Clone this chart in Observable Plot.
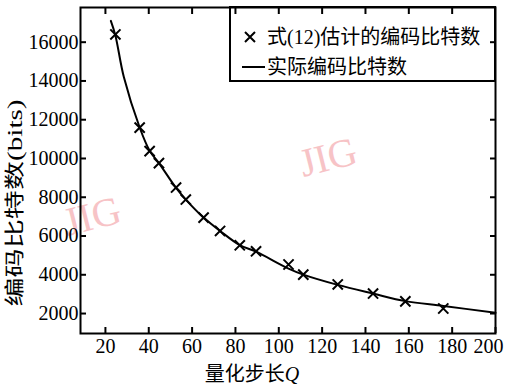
<!DOCTYPE html>
<html><head><meta charset="utf-8">
<script src="https://cdn.jsdelivr.net/npm/d3@7"></script>
<script src="https://cdn.jsdelivr.net/npm/@observablehq/plot@0.6"></script>
<style>
body{margin:0;background:#fff;}
#chart{position:relative;width:506px;height:388px;overflow:hidden;}
.leg{position:absolute;left:229px;top:6px;width:267px;height:76px;box-sizing:border-box;border:2px solid #000;}
.lt{position:absolute;font-family:'Liberation Serif','Noto Sans CJK SC',serif;font-size:20px;line-height:20px;color:#000;white-space:nowrap;}
</style></head><body><div id="chart"></div>
<script>
// Estimated bits from Eq.(12) (× markers)
const estQ = [24.6, 35.8, 40.4, 44.7, 52.6, 57.1, 65.3, 72.9, 82, 89.5, 104.5, 111.3, 127.2, 143.5, 158.4, 175.9];
const estBits = [16400, 11590, 10380, 9760, 8500, 7880, 6950, 6260, 5520, 5210, 4530, 4010, 3500, 3030, 2630, 2260];
// Actual coded bits (solid line)
const actQ = [22.5, 24.6, 28.5, 35.8, 40.4, 44.7, 52.6, 57.1, 65.3, 72.9, 82, 89.5, 104.5, 111.3, 127.2, 143.5, 158.4, 176, 200];
const actBits = [17100, 16350, 14200, 11600, 10400, 9760, 8480, 7880, 6950, 6260, 5530, 5190, 4320, 4010, 3480, 3030, 2640, 2390, 2040];
const xTicks = [20, 40, 60, 80, 100, 120, 140, 160, 180, 200];
const yTicks = [2000, 4000, 6000, 8000, 10000, 12000, 14000, 16000];
const legendLabels = ["式(12)估计的编码比特数", "实际编码比特数"];
const xLabel = "量化步长", xLabelVar = "Q";
const yLabel = "编码比特数(bits)";
const watermark = "JIG";

const est = estQ.map((q, i) => ({q, bits: estBits[i]}));
const act = actQ.map((q, i) => ({q, bits: actBits[i]}));

const svg = Plot.plot({
  width: 506, height: 388,
  marginLeft: 80, marginRight: 11, marginTop: 7, marginBottom: 55,
  x: {domain: [8.5, 200]},
  y: {domain: [970, 17790]},
  style: {fontFamily: "'Liberation Serif', serif", fontSize: "20px", background: "#fff", color: "#000"},
  marks: [
    Plot.axisX({anchor: "bottom", ticks: xTicks, tickSize: -6, tickPadding: 11, label: null, strokeWidth: 2, fontSize: 20}),
    Plot.axisX({anchor: "top", ticks: xTicks.filter(d => d < 200), tickSize: -6, tickFormat: () => "", label: null, strokeWidth: 2}),
    Plot.axisY({anchor: "left", ticks: yTicks, tickSize: -6, tickPadding: 8, tickFormat: d => String(d), label: null, strokeWidth: 2, fontSize: 20}),
    Plot.axisY({anchor: "right", ticks: yTicks, tickSize: -6, tickFormat: () => "", label: null, strokeWidth: 2}),
    Plot.line(act, {x: "q", y: "bits", curve: "catmull-rom", stroke: "#000", strokeWidth: 2}),
    Plot.dot(est, {x: "q", y: "bits", symbol: "times", r: 4.7, stroke: "#000", strokeWidth: 2}),
    Plot.frame({stroke: "#000", strokeWidth: 2})
  ]
});
const root = document.getElementById("chart");
root.appendChild(svg);

const s = d3.select(svg);
// keep the last x tick label inside the picture
s.selectAll("text").filter(function () { return this.textContent === "200"; })
  .attr("text-anchor", "end").attr("dx", 8).style("text-anchor", "end");
// watermarks
[[92, 216], [328, 157]].forEach(([cx, cy]) => {
  s.insert("text", ":first-child")
    .attr("transform", `translate(${cx},${cy}) rotate(-14)`)
    .attr("text-anchor", "middle").attr("dominant-baseline", "central")
    .attr("fill", "#f7c3c6").attr("font-size", 40)
    .attr("font-family", "'Liberation Serif', serif")
    .text(watermark);
});
// y label
s.append("text")
  .attr("transform", "translate(15,203) rotate(-90)")
  .attr("text-anchor", "middle").attr("dominant-baseline", "central")
  .attr("font-size", 20).attr("font-family", "'Liberation Serif','Noto Sans CJK SC',serif")
  .attr("textLength", 207).attr("lengthAdjust", "spacingAndGlyphs")
  .attr("fill", "#000")
  .text(yLabel);
// x label
const xl = s.append("text").attr("x", 252).attr("y", 381)
  .attr("font-size", 20).attr("fill", "#000")
  .attr("font-family", "'Liberation Serif','Noto Sans CJK SC',serif");
xl.append("tspan").attr("font-family", "'Noto Sans CJK SC',sans-serif").text(xLabel);
xl.append("tspan").attr("font-style", "italic").text(xLabelVar);

// legend
const leg = document.createElement("div");
leg.className = "leg";
root.appendChild(leg);
const mk = document.createElementNS("http://www.w3.org/2000/svg", "svg");
mk.setAttribute("width", 506); mk.setAttribute("height", 388);
mk.style.position = "absolute"; mk.style.left = "0"; mk.style.top = "0";
mk.innerHTML = `<path d="M245,32L255,42M245,42L255,32" stroke="#000" stroke-width="2"/>
<line x1="242" x2="265" y1="67" y2="67" stroke="#000" stroke-width="2"/>`;
root.appendChild(mk);
legendLabels.forEach((t, i) => {
  const d = document.createElement("div");
  d.className = "lt";
  d.style.left = "267px";
  d.style.top = (i === 0 ? 27 : 57) + "px";
  d.textContent = t;
  root.appendChild(d);
});
</script></body></html>
